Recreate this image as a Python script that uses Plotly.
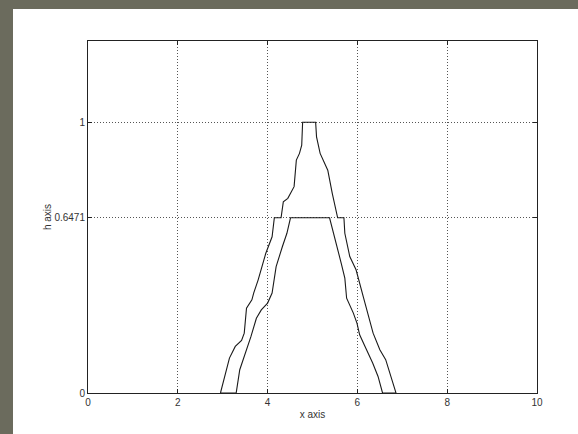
import plotly.graph_objects as go

# Outer contour (left rise, top plateau, right fall)
outer_x = [2.95, 3.15, 3.28, 3.42, 3.48, 3.53, 3.65, 3.69, 3.79, 3.96, 4.10, 4.15, 4.30,
           4.35, 4.45, 4.59, 4.64, 4.71, 4.76, 4.78, 5.07, 5.09, 5.17, 5.34, 5.44, 5.53,
           5.56, 5.70, 5.72, 5.83, 5.97, 6.13, 6.17, 6.26, 6.35, 6.50, 6.63, 6.86]
outer_y = [0.0, 0.129, 0.172, 0.194, 0.221, 0.313, 0.344, 0.369, 0.418, 0.516, 0.577, 0.6471, 0.6471,
           0.706, 0.719, 0.762, 0.860, 0.885, 0.915, 1.0, 1.0, 0.946, 0.885, 0.823, 0.737, 0.663,
           0.6471, 0.6471, 0.59, 0.504, 0.455, 0.356, 0.332, 0.270, 0.221, 0.160, 0.123, 0.0]

# Inner contour
inner_x = [3.30, 3.38, 3.51, 3.63, 3.75, 3.86, 4.00, 4.10, 4.19, 4.33, 4.43, 4.51, 5.38,
           5.41, 5.53, 5.64, 5.72, 5.76, 5.91, 5.99, 6.05, 6.17, 6.34, 6.46, 6.56]
inner_y = [0.0, 0.086, 0.147, 0.209, 0.276, 0.307, 0.332, 0.369, 0.467, 0.541, 0.590, 0.6471, 0.6471,
           0.627, 0.553, 0.479, 0.424, 0.350, 0.295, 0.258, 0.215, 0.172, 0.111, 0.061, 0.0]

x_ticks = [0, 2, 4, 6, 8, 10]
y_ticks = [0, 0.6471, 1]
y_tick_labels = ["0", "0.6471", "1"]

# closed outline: outer, then inner reversed, back to start
px = outer_x + inner_x[::-1] + outer_x[:1]
py = outer_y + inner_y[::-1] + outer_y[:1]

fig = go.Figure()
fig.add_trace(go.Scatter(x=px, y=py, mode="lines",
                         line=dict(color="#1a1a1a", width=1.1),
                         showlegend=False, hoverinfo="skip"))

W, H = 578, 434
L, R, T, B = 88, 41, 41, 41
pw, ph = W - L - R, H - T - B

fig.add_shape(type="rect", xref="paper", yref="paper", layer="below",
              x0=(13 - L) / pw, x1=(W + 20 - L) / pw,
              y0=-(B + 20) / ph, y1=(H - B - 9) / ph,
              fillcolor="white", line=dict(width=0))

axis_font = dict(family="Liberation Sans, Arial, sans-serif", size=10, color="#333333")

grid = dict(showgrid=True, gridcolor="#555555", griddash="1px,2px", gridwidth=1)

fig.update_layout(
    width=W, height=H,
    margin=dict(l=L, r=R, t=T, b=B, autoexpand=False),
    paper_bgcolor="#6b6b5d",
    plot_bgcolor="white",
    font=axis_font,
    xaxis=dict(range=[0, 10], tickvals=x_ticks, ticktext=[str(v) for v in x_ticks],
               showline=True, linecolor="#222222", linewidth=1, mirror="ticks",
               ticks="inside", ticklen=4, tickcolor="#222222",
               zeroline=False, automargin=False,
               title=dict(text="x axis", font=axis_font, standoff=3),
               tickfont=axis_font, **grid),
    yaxis=dict(range=[0, 1.3], tickvals=y_ticks, ticktext=y_tick_labels,
               showline=True, linecolor="#222222", linewidth=1, mirror="ticks",
               ticks="inside", ticklen=4, tickcolor="#222222",
               zeroline=False, automargin=False,
               title=dict(text="h axis", font=axis_font, standoff=0),
               tickfont=axis_font, **grid),
)

fig.write_html("out.html")
